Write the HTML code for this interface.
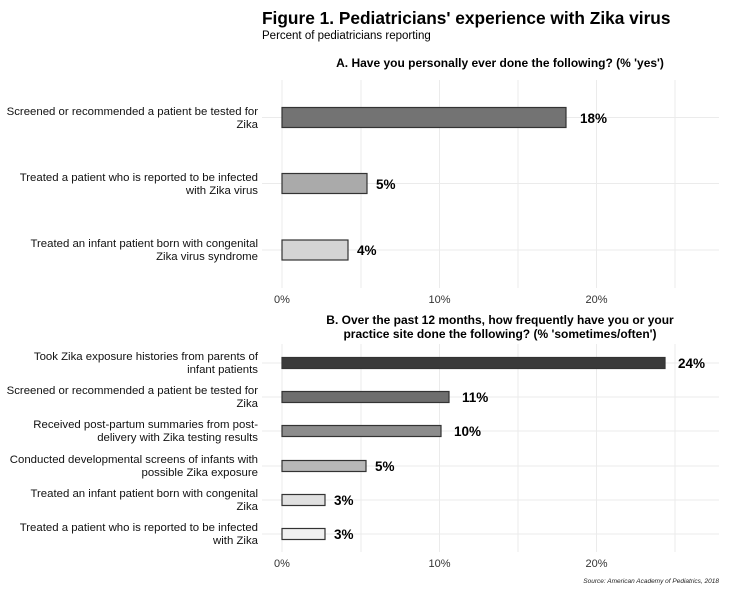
<!DOCTYPE html>
<html><head><meta charset="utf-8"><style>body{margin:0;background:#fff}svg{display:block}text{font-family:"Liberation Sans",Arial,sans-serif}</style></head><body>
<svg width="732" height="589" viewBox="0 0 732 589" xmlns="http://www.w3.org/2000/svg">
<text x="262" y="24" font-size="17.3" font-weight="bold" fill="#000">Figure 1. Pediatricians' experience with Zika virus</text>
<text x="262" y="39" font-size="11.5" fill="#000">Percent of pediatricians reporting</text>
<text x="500" y="67" font-size="12" font-weight="bold" text-anchor="middle">A. Have you personally ever done the following? (% 'yes')</text>
<g stroke="#ebebeb" stroke-width="1">
<line x1="282" y1="80" x2="282" y2="288"/><line x1="361" y1="80" x2="361" y2="288"/><line x1="439.5" y1="80" x2="439.5" y2="288"/><line x1="518" y1="80" x2="518" y2="288"/><line x1="596.5" y1="80" x2="596.5" y2="288"/><line x1="675" y1="80" x2="675" y2="288"/>
<line x1="262" y1="117.5" x2="719" y2="117.5"/><line x1="262" y1="183.5" x2="719" y2="183.5"/><line x1="262" y1="250" x2="719" y2="250"/>
</g>
<g stroke="#333" stroke-width="1.2">
<rect x="282" y="107.5" width="284" height="20" fill="#737373"/>
<rect x="282" y="173.5" width="85" height="20" fill="#aaaaaa"/>
<rect x="282" y="240" width="66" height="20" fill="#d4d4d4"/>
</g>
<g font-size="13.5" font-weight="bold"><text x="580" y="123">18%</text><text x="376" y="189">5%</text><text x="357" y="255">4%</text></g>
<g font-size="11" text-anchor="middle" fill="#333"><text x="282" y="303">0%</text><text x="439.5" y="303">10%</text><text x="596.5" y="303">20%</text></g>
<g font-size="11.4" text-anchor="end" fill="#111">
<text x="258" y="115">Screened or recommended a patient be tested for</text><text x="258" y="128">Zika</text>
<text x="258" y="181">Treated a patient who is reported to be infected</text><text x="258" y="194">with Zika virus</text>
<text x="258" y="247">Treated an infant patient born with congenital</text><text x="258" y="260">Zika virus syndrome</text>
</g>
<text x="500" y="324" font-size="12" font-weight="bold" text-anchor="middle">B. Over the past 12 months, how frequently have you or your</text>
<text x="500" y="338" font-size="12" font-weight="bold" text-anchor="middle">practice site done the following? (% 'sometimes/often')</text>
<g stroke="#ebebeb" stroke-width="1">
<line x1="282" y1="344" x2="282" y2="552"/><line x1="361" y1="344" x2="361" y2="552"/><line x1="439.5" y1="344" x2="439.5" y2="552"/><line x1="518" y1="344" x2="518" y2="552"/><line x1="596.5" y1="344" x2="596.5" y2="552"/><line x1="675" y1="344" x2="675" y2="552"/>
<line x1="262" y1="363" x2="719" y2="363"/><line x1="262" y1="397" x2="719" y2="397"/><line x1="262" y1="431" x2="719" y2="431"/><line x1="262" y1="466" x2="719" y2="466"/><line x1="262" y1="500" x2="719" y2="500"/><line x1="262" y1="534" x2="719" y2="534"/>
</g>
<g stroke="#333" stroke-width="1.2">
<rect x="282" y="357.5" width="383" height="11" fill="#3a3a3a"/>
<rect x="282" y="391.5" width="167" height="11" fill="#6e6e6e"/>
<rect x="282" y="425.5" width="159" height="11" fill="#8c8c8c"/>
<rect x="282" y="460.5" width="84" height="11" fill="#b8b8b8"/>
<rect x="282" y="494.5" width="43" height="11" fill="#e0e0e0"/>
<rect x="282" y="528.5" width="43" height="11" fill="#f0f0f0"/>
</g>
<g font-size="13.5" font-weight="bold"><text x="678" y="368">24%</text><text x="462" y="402">11%</text><text x="454" y="436">10%</text><text x="375" y="471">5%</text><text x="334" y="505">3%</text><text x="334" y="539">3%</text></g>
<g font-size="11" text-anchor="middle" fill="#333"><text x="282" y="567">0%</text><text x="439.5" y="567">10%</text><text x="596.5" y="567">20%</text></g>
<g font-size="11.4" text-anchor="end" fill="#111">
<text x="258" y="360">Took Zika exposure histories from parents of</text><text x="258" y="373">infant patients</text>
<text x="258" y="394">Screened or recommended a patient be tested for</text><text x="258" y="407">Zika</text>
<text x="258" y="428">Received post-partum summaries from post-</text><text x="258" y="441">delivery with Zika testing results</text>
<text x="258" y="463">Conducted developmental screens of infants with</text><text x="258" y="476">possible Zika exposure</text>
<text x="258" y="497">Treated an infant patient born with congenital</text><text x="258" y="510">Zika</text>
<text x="258" y="531">Treated a patient who is reported to be infected</text><text x="258" y="544">with Zika</text>
</g>
<text x="719" y="583" font-size="6.5" font-style="italic" text-anchor="end" fill="#222">Source: American Academy of Pediatrics, 2018</text>
</svg>
</body></html>
